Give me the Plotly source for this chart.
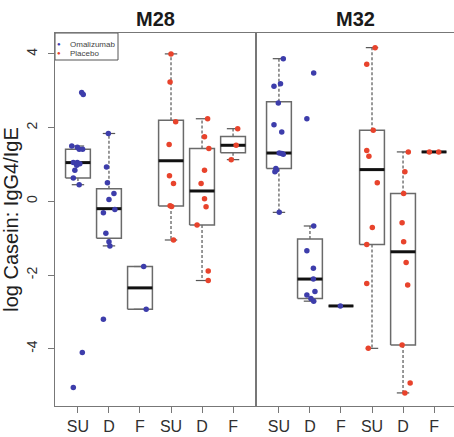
import plotly.graph_objects as go
from plotly.subplots import make_subplots

# ---------------- data ----------------
panels = ["M28", "M32"]
group_labels = ["SU", "D", "F", "SU", "D", "F"]
group_treatment = ["Omalizumab", "Omalizumab", "Omalizumab", "Placebo", "Placebo", "Placebo"]
treatments = ["Omalizumab", "Placebo"]

# box statistics per group: lower whisker, Q1, median, Q3, upper whisker
m28_lower = [0.45, -1.21, -2.93, -1.05, -2.15, 1.13]
m28_q1 = [0.63, -1.00, -2.93, -0.13, -0.64, 1.32]
m28_median = [1.05, -0.20, -2.35, 1.10, 0.28, 1.52]
m28_q3 = [1.41, 0.34, -1.77, 2.20, 1.43, 1.76]
m28_upper = [1.50, 1.84, -1.77, 4.00, 2.24, 1.97]

m32_lower = [-0.30, -2.71, -2.84, -3.99, -5.20, 1.34]
m32_q1 = [0.89, -2.64, -2.84, -1.17, -3.90, 1.34]
m32_median = [1.31, -2.11, -2.84, 0.86, -1.37, 1.34]
m32_q3 = [2.70, -1.02, -2.84, 1.93, 0.21, 1.34]
m32_upper = [3.87, -0.67, -2.84, 4.17, 1.34, 1.34]

# individual observations per group
m28_values = [
    [2.95, 2.90, 1.50, 1.47, 1.41, 1.41, 1.05, 1.05, 1.02, 0.98, 0.84, 0.63, 0.45, -4.10, -5.05],
    [1.84, 0.93, 0.50, 0.21, 0.05, -0.22, -0.31, -0.87, -1.10, -1.21, -3.20],
    [-1.77, -2.93],
    [4.00, 3.24, 2.16, 1.54, 0.69, 0.48, -0.12, -0.14, -1.05],
    [2.24, 1.75, 1.43, 0.84, 0.48, 0.07, -0.15, -0.64, -1.89, -2.15],
    [1.97, 1.52, 1.13],
]
m28_jitter = [
    [0.12, 0.17, -0.20, -0.02, 0.04, 0.15, -0.15, -0.02, 0.06, -0.04, -0.10, -0.15, 0.04, 0.14, -0.15],
    [-0.02, -0.08, -0.05, 0.16, 0.00, 0.19, -0.18, -0.10, 0.00, 0.03, -0.18],
    [0.12, 0.20],
    [0.00, -0.03, 0.15, -0.06, -0.05, 0.08, -0.03, 0.02, 0.08],
    [0.18, 0.08, 0.22, 0.08, -0.03, 0.08, 0.13, -0.16, 0.20, 0.20],
    [0.15, 0.10, -0.06],
]
m32_values = [
    [3.87, 3.19, 3.12, 2.67, 2.08, 1.88, 1.31, 1.30, 1.28, 0.89, 0.85, 0.80, -0.30],
    [3.48, 2.24, -0.67, -1.34, -1.82, -2.11, -2.45, -2.54, -2.64, -2.71],
    [-2.84],
    [4.17, 3.72, 1.93, 1.38, 1.22, 0.50, -0.71, -1.17, -2.23, -3.99],
    [1.34, 0.80, 0.21, -0.58, -1.10, -1.66, -2.27, -3.90, -4.93, -5.20],
    [1.34, 1.34],
]
m32_jitter = [
    [0.14, 0.05, -0.16, -0.02, -0.16, 0.09, 0.01, 0.09, 0.14, -0.10, -0.08, -0.13, 0.01],
    [0.12, -0.10, 0.12, -0.10, 0.11, 0.11, 0.16, -0.10, 0.03, 0.12],
    [-0.02],
    [0.10, -0.17, 0.04, -0.17, -0.10, 0.17, 0.01, -0.17, -0.17, -0.12],
    [0.17, 0.06, 0.02, -0.03, 0.02, 0.10, 0.15, -0.03, 0.23, 0.06],
    [-0.15, 0.15],
]

y_ticks = [-4, -2, 0, 2, 4]
y_title = "log Casein: IgG4/IgE"

# ---------------- styling ----------------
colors = {"Omalizumab": "#3d3dab", "Placebo": "#e8432c"}
box_color = "#6a6a6a"
frame_color = "#777777"
text_color = "#303030"
font_family = "Liberation Sans, Arial, sans-serif"
half_box = 0.4
half_cap = 0.2

W, H = 454, 437
ml, mr, mt, mb = 55, 0, 33, 31
panel_px = 201
plot_w = W - ml - mr
plot_h = H - mt - mb
split = panel_px / plot_w
px_per_unit = panel_px / 6.48
x0 = 0.26

fig = make_subplots(rows=1, cols=2, shared_yaxes=True, horizontal_spacing=0)

panel_data = [
    (m28_lower, m28_q1, m28_median, m28_q3, m28_upper, m28_values, m28_jitter),
    (m32_lower, m32_q1, m32_median, m32_q3, m32_upper, m32_values, m32_jitter),
]

for p, (lo, q1, med, q3, up, vals, jit) in enumerate(panel_data):
    col = p + 1
    positions = list(range(1, len(group_labels) + 1))
    bx, by, wx, wy, cx, cy, mx, my = [], [], [], [], [], [], [], []
    for i, x in enumerate(positions):
        bx += [x - half_box, x + half_box, x + half_box, x - half_box, x - half_box, None]
        by += [q1[i], q1[i], q3[i], q3[i], q1[i], None]
        wx += [x, x, None, x, x, None]
        wy += [q3[i], up[i], None, q1[i], lo[i], None]
        cx += [x - half_cap, x + half_cap, None, x - half_cap, x + half_cap, None]
        cy += [up[i], up[i], None, lo[i], lo[i], None]
        mx += [x - half_box, x + half_box, None]
        my += [med[i], med[i], None]

    fig.add_trace(go.Scatter(x=wx, y=wy, mode="lines", showlegend=False, hoverinfo="skip",
                             line=dict(color="#555555", width=1.2, dash="3px,2px")), row=1, col=col)
    fig.add_trace(go.Scatter(x=cx, y=cy, mode="lines", showlegend=False, hoverinfo="skip",
                             line=dict(color="#555555", width=1.2)), row=1, col=col)
    fig.add_trace(go.Scatter(x=bx, y=by, mode="lines", showlegend=False, hoverinfo="skip",
                             line=dict(color=box_color, width=1.5)), row=1, col=col)
    fig.add_trace(go.Scatter(x=mx, y=my, mode="lines", showlegend=False, hoverinfo="skip",
                             line=dict(color="#111111", width=3)), row=1, col=col)

    for t in treatments:
        px_, py_ = [], []
        for i, x in enumerate(positions):
            if group_treatment[i] != t:
                continue
            for v, j in zip(vals[i], jit[i]):
                px_.append(x + j)
                py_.append(v)
        fig.add_trace(go.Scatter(x=px_, y=py_, mode="markers", name=t, legendgroup=t,
                                 showlegend=False,
                                 marker=dict(color=colors[t], size=5.5)), row=1, col=col)

# axes
axis_common = dict(showgrid=False, zeroline=False, showline=True, linecolor=frame_color, linewidth=1)
fig.update_xaxes(**axis_common, mirror=True, tickmode="array",
                 tickvals=list(range(1, 7)), ticktext=group_labels,
                 ticks="outside", ticklen=6, tickcolor=frame_color,
                 tickfont=dict(size=16, color=text_color, family=font_family))
fig.update_xaxes(domain=[0, split], range=[x0, x0 + 6.48], row=1, col=1)
fig.update_xaxes(domain=[split, 1], range=[x0, x0 + (plot_w - panel_px) / px_per_unit], row=1, col=2)
y_top = 4.567
y_bot = -5.555
fig.update_yaxes(**axis_common, range=[y_bot, y_top])
fig.update_yaxes(row=1, col=1, mirror=True, tickmode="array", tickvals=y_ticks,
                 ticktext=[str(v) for v in y_ticks], ticks="outside", ticklen=6,
                 tickcolor=frame_color, tickangle=-90, ticklabelstandoff=5,
                 tickfont=dict(size=14, color=text_color, family=font_family),
                 title=dict(text=y_title, standoff=2,
                            font=dict(size=20, color="#202020", family=font_family)))
fig.update_yaxes(row=1, col=2, mirror=False, showticklabels=False, ticks="")

# panel titles
for p, name in enumerate(panels):
    xref = "x domain" if p == 0 else "x2 domain"
    fig.add_annotation(text="<b>%s</b>" % name, xref=xref, yref="paper", x=0.5, y=1,
                       yanchor="bottom", yshift=1, showarrow=False,
                       font=dict(size=20, color="#1a1a1a", family=font_family))

# compact legend box (R style) in the top-left corner of the first panel
leg_right = (118 - ml) / plot_w
leg_bottom = 1 - 27 / plot_h
fig.add_shape(type="rect", xref="paper", yref="paper", x0=0, x1=leg_right, y0=leg_bottom, y1=1,
              line=dict(color="#555555", width=1), fillcolor="white", layer="below")
for k, t in enumerate(treatments):
    yk = 1 - (11 + 9 * k) / plot_h
    fig.add_annotation(text="●", xref="paper", yref="paper", x=3.5 / plot_w, y=yk,
                       xanchor="center", yanchor="middle", showarrow=False,
                       font=dict(size=6, color=colors[t]))
    fig.add_annotation(text=t, xref="paper", yref="paper", x=13 / plot_w, y=yk,
                       xanchor="left", yanchor="middle", showarrow=False,
                       font=dict(size=8, color="#444444", family=font_family))

fig.update_layout(
    width=W, height=H,
    margin=dict(l=ml, r=mr, t=mt, b=mb, pad=0),
    paper_bgcolor="white", plot_bgcolor="white",
    font=dict(family=font_family, color=text_color),
    showlegend=False,
)

fig.write_html("out.html", config={"displayModeBar": False},
               post_script="document.body.style.margin='0px';")
